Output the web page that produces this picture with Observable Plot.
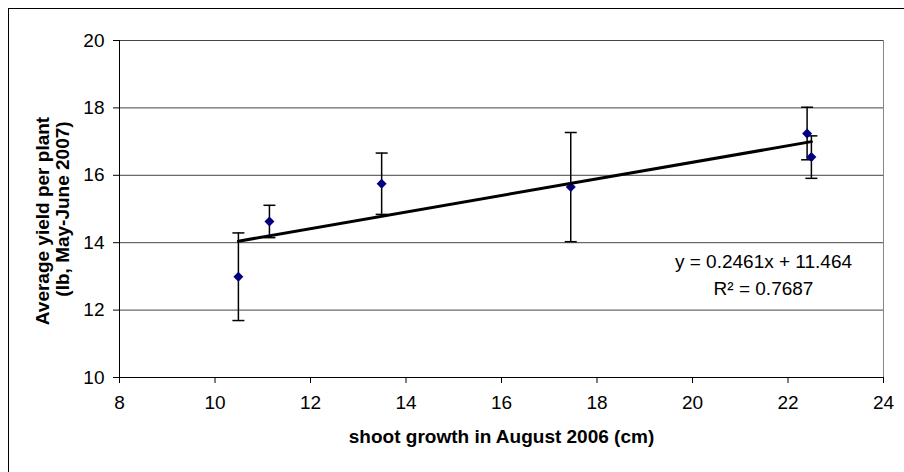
<!DOCTYPE html>
<html>
<head>
<meta charset="utf-8">
<script src="https://cdn.jsdelivr.net/npm/d3@7"></script>
<script src="https://cdn.jsdelivr.net/npm/@observablehq/plot@0.6"></script>
<style>
  html, body { margin: 0; padding: 0; background: #fff; }
  #chart { position: relative; width: 904px; height: 472px; overflow: hidden; }
</style>
</head>
<body>
<div id="chart"></div>
<script>
// Shoot growth (cm) vs. average yield per plant (lb), with ± error
const shootGrowth = [10.49, 11.14, 13.49, 17.45, 22.40, 22.49];
const avgYield    = [12.99, 14.63, 15.75, 15.65, 17.24, 16.54];
const yieldError  = [1.30, 0.48, 0.91, 1.62, 0.78, 0.63];

const xTicks = [8, 10, 12, 14, 16, 18, 20, 22, 24];
const yTicks = [10, 12, 14, 16, 18, 20];

// Linear trendline reported on the chart
const slope = 0.2461;
const intercept = 11.464;
const rSquared = 0.7687;

const xTitle = "shoot growth in August 2006 (cm)";
const yTitleLines = ["Average yield per plant", "(lb, May-June 2007)"];

const points = shootGrowth.map((x, i) => ({
  x,
  y: avgYield[i],
  lo: avgYield[i] - yieldError[i],
  hi: avgYield[i] + yieldError[i]
}));
const trend = d3.extent(shootGrowth).map(x => ({x, y: slope * x + intercept}));

// horizontal cap for the error bars; r is the half-width
const cap = {
  draw(ctx, size) {
    const w = Math.sqrt(size / Math.PI);
    ctx.moveTo(-w, 0);
    ctx.lineTo(w, 0);
  }
};

const font = "'Liberation Sans', Arial, sans-serif";
const yTitleStyle = {
  text: d => d, frameAnchor: "left", rotate: -90,
  textAnchor: "middle", lineAnchor: "middle",
  fontWeight: "bold", fontSize: 19, fill: "black"
};

const chart = Plot.plot({
  width: 904,
  height: 472,
  marginLeft: 119,
  marginRight: 21,
  marginTop: 40,
  marginBottom: 95,
  style: {fontFamily: font, fontSize: "19px", color: "black", background: "white", overflow: "visible"},
  x: {domain: [8, 24]},
  y: {domain: [10, 20]},
  marks: [
    Plot.gridY(yTicks.filter(t => t > 10), {stroke: "#444", strokeOpacity: 1}),
    Plot.ruleX([24], {stroke: "#888"}),
    Plot.axisX(xTicks, {tickSize: 6, tickPadding: 12, fontSize: 19, label: null}),
    Plot.axisY(yTicks, {tickSize: 6, tickPadding: 9, fontSize: 19, label: null}),
    Plot.ruleY([10], {stroke: "black"}),
    Plot.ruleX([8], {stroke: "black"}),
    Plot.ruleX(points, {x: "x", y1: "lo", y2: "hi", stroke: "black", strokeWidth: 1.5}),
    Plot.dot(points, {x: "x", y: "hi", symbol: cap, r: 6, fill: "none", stroke: "black", strokeWidth: 1.5}),
    Plot.dot(points, {x: "x", y: "lo", symbol: cap, r: 6, fill: "none", stroke: "black", strokeWidth: 1.5}),
    Plot.dot(points, {x: "x", y: "y", symbol: "diamond2", r: 4.5, fill: "#000080", stroke: "none"}),
    Plot.line(trend, {x: "x", y: "y", stroke: "black", strokeWidth: 3}),
    Plot.text([`y = ${slope}x + ${intercept}\nR² = ${rSquared}`], {
      text: d => d, frameAnchor: "top-right", dx: -120, dy: 209,
      textAnchor: "middle", lineAnchor: "top", lineHeight: 1.4, fontSize: 19, fill: "black"
    }),
    Plot.text([xTitle], {
      text: d => d, frameAnchor: "bottom", dy: 65, textAnchor: "middle",
      fontWeight: "bold", fontSize: 19, fill: "black"
    }),
    Plot.text([yTitleLines[0]], {...yTitleStyle, dx: -77, dy: 12}),
    Plot.text([yTitleLines[1]], {...yTitleStyle, dx: -57, dy: 0})
  ]
});

// outer chart border
d3.select(chart).append("rect")
  .attr("x", 8.5).attr("y", 8.5)
  .attr("width", 1000).attr("height", 1000)
  .attr("fill", "none").attr("stroke", "black");

document.getElementById("chart").append(chart);
</script>
</body>
</html>
